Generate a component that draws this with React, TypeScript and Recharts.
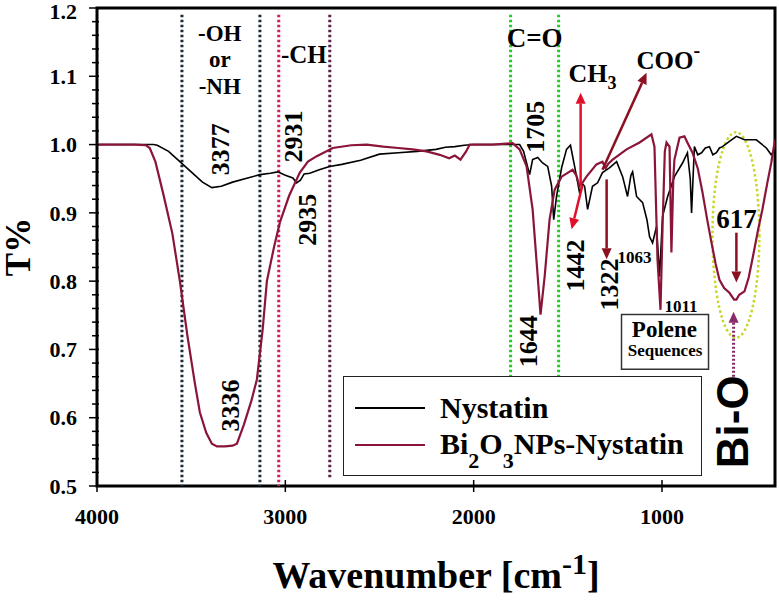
import React from 'react';
import {
  LineChart,
  Line,
  XAxis,
  YAxis,
  Legend,
  ReferenceLine,
  ReferenceDot,
  ReferenceArea,
} from 'recharts';

const SERIF = '"Liberation Serif", "Times New Roman", serif';
const SANS = '"Liberation Sans", Arial, sans-serif';

// wavenumber (cm-1) / transmittance
const nysWn = [
  4000, 3900, 3800, 3700, 3680, 3620, 3560, 3500, 3440, 3390, 3340, 3280, 3200, 3135, 3080, 3040,
  3000, 2960, 2940, 2920, 2900, 2870, 2820, 2765, 2700, 2600, 2500, 2400, 2300, 2200, 2150, 2100,
  2050, 2000, 1900, 1800, 1756, 1735, 1719, 1703, 1687, 1660, 1634, 1607, 1586, 1575, 1560, 1533,
  1507, 1486, 1464, 1438, 1420, 1411, 1395, 1369, 1342, 1316, 1279, 1241, 1209, 1183, 1165, 1156,
  1135, 1103, 1080, 1066, 1050, 1029, 1013, 997, 970, 934, 891, 865, 850, 843, 828, 810, 790, 770,
  748, 730, 711, 695, 679, 640, 605, 562, 499, 446, 420, 400,
];
const nysT = [
  1.0, 1.0, 1.0, 1.0, 0.999, 0.99, 0.975, 0.96, 0.945, 0.937, 0.939, 0.945, 0.951, 0.956, 0.958, 0.96,
  0.955, 0.951, 0.944, 0.948, 0.957, 0.958, 0.963, 0.968, 0.971, 0.977, 0.986, 0.988, 0.99, 0.993, 0.996, 0.997,
  0.999, 1.0, 1.0, 1.0, 1.0, 0.99, 0.973, 0.956, 0.978, 0.981, 0.973, 0.968, 0.939, 0.89, 0.924, 0.966,
  0.993, 0.999, 0.968, 0.93, 0.942, 0.939, 0.905, 0.939, 0.944, 0.959, 0.966, 0.975, 0.953, 0.924, 0.955, 0.96,
  0.924, 0.915, 0.89, 0.865, 0.856, 0.88, 0.807, 0.895, 0.924, 0.953, 0.973, 0.988, 0.95, 0.9, 0.997, 0.985, 0.988, 0.995,
  0.997, 0.985, 0.988, 0.995, 0.997, 1.005, 1.012, 1.007, 1.007, 0.995, 0.985, 0.993,
];

const biWn = [
  4000, 3900, 3800, 3740, 3720, 3690, 3650, 3600, 3560, 3520, 3480, 3454, 3420, 3390, 3363, 3320,
  3280, 3257, 3220, 3180, 3151, 3120, 3098, 3060, 3029, 2980, 2923, 2880, 2833, 2748, 2650, 2568,
  2480, 2400, 2324, 2250, 2180, 2130, 2100, 2070, 2040, 2021, 1900, 1793, 1756, 1719, 1687, 1660,
  1645, 1623, 1597, 1570, 1533, 1475, 1455, 1438, 1420, 1401, 1348, 1316, 1300, 1285, 1262, 1188,
  1119, 1056, 1040, 1024, 1008, 997, 985, 976, 960, 950, 940, 934, 907, 881, 860, 838, 810, 785,
  760, 737, 715, 695, 670, 642, 617, 605, 590, 562, 540, 520, 490, 467, 440, 420, 400,
];
const biT = [
  1.0, 1.0, 1.0, 0.999, 0.995, 0.975, 0.93, 0.87, 0.8, 0.72, 0.65, 0.608, 0.578, 0.562, 0.558, 0.558,
  0.559, 0.562, 0.59, 0.625, 0.656, 0.73, 0.8, 0.85, 0.886, 0.925, 0.959, 0.975, 0.983, 0.995, 0.999, 1.0,
  0.997, 0.995, 0.993, 0.99, 0.985, 0.98, 0.984, 0.978, 0.99, 1.0, 1.0, 1.002, 0.993, 0.968, 0.905, 0.807,
  0.751, 0.807, 0.89, 0.934, 0.953, 0.963, 0.955, 0.939, 0.945, 0.953, 0.971, 0.975, 0.965, 0.972, 0.978, 0.993,
  1.003, 1.015, 0.997, 0.832, 0.758, 0.88, 0.99, 1.003, 0.997, 0.842, 0.95, 0.978, 1.01, 1.012, 1.0, 0.988, 0.965, 0.93,
  0.89, 0.856, 0.825, 0.802, 0.79, 0.783, 0.773, 0.773, 0.78, 0.785, 0.805, 0.832, 0.875, 0.905, 0.945, 0.973, 1.007,
];

const seriesNames = ['Nystatin', 'Bi2O3NPs-Nystatin'];
const seriesColors = ['#000000', '#8b1538'];

const xTicks = [4000, 3000, 2000, 1000];
const yLabels = [0.5, 0.6, 0.7, 0.8, 0.9, 1.0, 1.1, 1.2];

// 4 minor ticks between labelled ones
const yTicks: number[] = [];
yLabels.forEach((v, i) => {
  yTicks.push(v);
  if (i < yLabels.length - 1) for (let k = 1; k < 5; k++) yTicks.push(Math.round((v + k * 0.02) * 100) / 100);
});

// band guides (wavenumber, colour, lower end)
const bandLines = [
  { wn: 3549, color: '#1b2a3a', bottom: 0.5 },
  { wn: 3135, color: '#1b2a3a', bottom: 0.5 },
  { wn: 3035, color: '#d81b5a', bottom: 0.5 },
  { wn: 2764, color: '#5e1f48', bottom: 0.51 },
  { wn: 1804, color: '#22cc22', bottom: 0.66 },
  { wn: 1549, color: '#22cc22', bottom: 0.66 },
];

// rotated peak positions
const peakLabels = [
  { wn: 3347, t: 0.993, text: '3377' },
  { wn: 2960, t: 1.012, text: '2931' },
  { wn: 2886, t: 0.89, text: '2935' },
  { wn: 3294, t: 0.618, text: '3336' },
  { wn: 1676, t: 1.026, text: '1705' },
  { wn: 1713, t: 0.712, text: '1644' },
  { wn: 1464, t: 0.823, text: '1442' },
  { wn: 1284, t: 0.795, text: '1322' },
];

// group labels, t is baseline
const groupLabels = [
  { wn: 3348, t: 1.152, text: '-OH', size: 23, anchor: 'middle' },
  { wn: 3348, t: 1.114, text: 'or', size: 23, anchor: 'middle' },
  { wn: 3348, t: 1.074, text: '-NH', size: 23, anchor: 'middle' },
  { wn: 2902, t: 1.12, text: '-CH', size: 25, anchor: 'middle' },
  { wn: 1676, t: 1.143, text: 'C=O', size: 27, anchor: 'middle' },
  { wn: 605, t: 0.878, text: '617', size: 27, anchor: 'middle' },
  { wn: 1236, t: 0.827, text: '1063', size: 17, anchor: 'start' },
  { wn: 987, t: 0.755, text: '1011', size: 17, anchor: 'start' },
  { wn: 987, t: 0.718, text: 'Polene', size: 23, anchor: 'middle' },
  { wn: 984, t: 0.69, text: 'Sequences', size: 17, anchor: 'middle' },
];

const arrows = [
  { from: [1432, 0.939], to: [1432, 1.076], color: '#e0102a', dashed: false },
  { from: [1422, 0.941], to: [1480, 0.876], color: '#e0102a', dashed: false },
  { from: [1316, 0.963], to: [1082, 1.105], color: '#8b1020', dashed: false },
  { from: [1294, 0.949], to: [1294, 0.832], color: '#8b1020', dashed: false },
  { from: [605, 0.871], to: [605, 0.798], color: '#8b1020', dashed: false },
  { from: [620, 0.66], to: [620, 0.755], color: '#8b2a6b', dashed: true },
];

const nysData = nysWn.map((wn, i) => ({ wn, t: nysT[i] }));
const biData = biWn.map((wn, i) => ({ wn, t: biT[i] }));

const XTick = (p: any) => (
  <g>
    <line x1={p.x} x2={p.x} y1={p.y - 6} y2={p.y + 6} stroke="#000" strokeWidth={1.5} />
    <text x={p.x} y={p.y + 38} textAnchor="middle" fontFamily={SERIF} fontWeight="bold" fontSize={22} fill="#000">
      {p.payload.value}
    </text>
  </g>
);

const YTick = (p: any) => {
  const v = p.payload.value;
  const major = Math.abs(v * 10 - Math.round(v * 10)) < 1e-6;
  return (
    <g>
      <line x1={p.x - (major ? 8 : 5)} x2={p.x + 2} y1={p.y} y2={p.y} stroke="#000" strokeWidth={1.5} />
      {major && (
        <text x={p.x - 20} y={Math.max(p.y, 11)} dy="0.35em" textAnchor="end" fontFamily={SERIF} fontWeight="bold" fontSize={22} fill="#000">
          {v.toFixed(1)}
        </text>
      )}
    </g>
  );
};

const arrowShape = (color: string, dashed: boolean) => (p: any) => {
  const { x1, y1, x2, y2 } = p;
  const dx = x2 - x1;
  const dy = y2 - y1;
  const len = Math.hypot(dx, dy) || 1;
  const ux = dx / len;
  const uy = dy / len;
  const hl = 11;
  const hw = 5;
  const bx = x2 - ux * hl;
  const by = y2 - uy * hl;
  const pts = `${x2},${y2} ${bx - uy * hw},${by + ux * hw} ${bx + uy * hw},${by - ux * hw}`;
  return (
    <g>
      <line x1={x1} y1={y1} x2={bx} y2={by} stroke={color} strokeWidth={dashed ? 3 : 2.5} strokeDasharray={dashed ? '2 2' : undefined} />
      <polygon points={pts} fill={color} />
    </g>
  );
};

const renderName = (name: string) =>
  name.split(/(\d)/).map((part, i) =>
    /\d/.test(part) ? (
      <span key={i} style={{ fontSize: 22, position: 'relative', top: 14 }}>{part}</span>
    ) : (
      <span key={i}>{part}</span>
    )
  );

const LegendBox = (props: any) => {
  const items = [...(props.payload || [])].sort(
    (a: any, b: any) => seriesNames.indexOf(a.value) - seriesNames.indexOf(b.value)
  );
  return (
    <div
      style={{
        width: 359,
        height: 100,
        boxSizing: 'border-box',
        border: '1.5px solid #222',
        background: '#fff',
        fontFamily: SERIF,
        fontWeight: 'bold',
        fontSize: 30,
        color: '#000',
      }}
    >
      {items.map((e: any, i: number) => (
        <div key={i} style={{ display: 'flex', alignItems: 'center', height: 37, lineHeight: '37px', marginTop: i === 0 ? 12 : 0 }}>
          <span style={{ width: 70, marginLeft: 11, marginRight: 15, borderTop: `2px solid ${e.color}` }} />
          <span>{renderName(String(e.value))}</span>
        </div>
      ))}
    </div>
  );
};

export default function App() {
  return (
    <div style={{ position: 'absolute', left: 0, top: 0 }}>
      <LineChart width={779} height={600} margin={{ top: 8, right: 4, left: 0, bottom: 0 }}>
        <XAxis
          dataKey="wn"
          type="number"
          domain={[400, 4000]}
          reversed
          allowDataOverflow
          ticks={xTicks}
          interval={0}
          tickSize={0}
          tickMargin={0}
          axisLine={false}
          tickLine={false}
          tick={XTick}
          height={114}
          label={{
            content: (p: any) => {
              const vb = p.viewBox;
              return (
                <text x={vb.x + vb.width / 2} y={vb.y + 102} textAnchor="middle" fontFamily={SERIF} fontWeight="bold" fontSize={38} fill="#000">
                  Wavenumber [cm
                  <tspan dy={-14} fontSize={30}>-1</tspan>
                  <tspan dy={14}>]</tspan>
                </text>
              );
            },
          }}
        />
        <YAxis
          type="number"
          domain={[0.5, 1.2]}
          allowDataOverflow
          ticks={yTicks}
          interval={0}
          tickSize={0}
          tickMargin={0}
          axisLine={false}
          tickLine={false}
          tick={YTick}
          width={97}
          label={{
            content: (p: any) => {
              const vb = p.viewBox;
              const cy = vb.y + vb.height / 2;
              return (
                <text x={19} y={cy} transform={`rotate(-90 19 ${cy})`} textAnchor="middle" dy="0.3em" fontFamily={SERIF} fontWeight="bold" fontSize={35} fill="#000">
                  T%
                </text>
              );
            },
          }}
        />

        {bandLines.map((b, i) => (
          <ReferenceLine
            key={'b' + i}
            segment={[{ x: b.wn, y: 1.19 }, { x: b.wn, y: b.bottom }]}
            stroke={b.color}
            strokeWidth={3}
            strokeDasharray="2.5 2.5"
            ifOverflow="visible"
          />
        ))}

        <ReferenceArea
          x1={732}
          x2={483}
          y1={0.717}
          y2={1.018}
          ifOverflow="visible"
          shape={(p: any) => (
            <ellipse
              cx={p.x + p.width / 2}
              cy={p.y + p.height / 2}
              rx={p.width / 2}
              ry={p.height / 2}
              fill="none"
              stroke="#c8d62a"
              strokeWidth={2.5}
              strokeDasharray="2.5 2.5"
            />
          )}
        />

        <Line data={nysData} dataKey="t" name={seriesNames[0]} stroke={seriesColors[0]} strokeWidth={1.6} dot={false} type="linear" isAnimationActive={false} />
        <Line data={biData} dataKey="t" name={seriesNames[1]} stroke={seriesColors[1]} strokeWidth={2.2} dot={false} type="linear" isAnimationActive={false} />

        {arrows.map((a, i) => (
          <ReferenceLine
            key={'a' + i}
            segment={[{ x: a.from[0], y: a.from[1] }, { x: a.to[0], y: a.to[1] }]}
            ifOverflow="visible"
            shape={arrowShape(a.color, a.dashed)}
          />
        ))}

        <ReferenceArea x1={1215} x2={753} y1={0.671} y2={0.751} fill="#fff" fillOpacity={1} stroke="#333" strokeWidth={1.5} ifOverflow="visible" />

        {peakLabels.map((n, i) => (
          <ReferenceDot
            key={'p' + i}
            x={n.wn}
            y={n.t}
            r={0}
            ifOverflow="visible"
            shape={(p: any) => (
              <text x={p.cx} y={p.cy} dy="0.35em" transform={`rotate(-90 ${p.cx} ${p.cy})`} textAnchor="middle" fontFamily={SERIF} fontWeight="bold" fontSize={26} fill="#000">
                {n.text}
              </text>
            )}
          />
        ))}

        {groupLabels.map((n, i) => (
          <ReferenceDot
            key={'g' + i}
            x={n.wn}
            y={n.t}
            r={0}
            ifOverflow="visible"
            shape={(p: any) => (
              <text x={p.cx} y={p.cy} textAnchor={n.anchor as any} fontFamily={SERIF} fontWeight="bold" fontSize={n.size} fill="#000">
                {n.text}
              </text>
            )}
          />
        ))}

        <ReferenceDot
          x={1496}
          y={1.091}
          r={0}
          ifOverflow="visible"
          shape={(p: any) => (
            <text x={p.cx} y={p.cy} fontFamily={SERIF} fontWeight="bold" fontSize={26} fill="#000">
              CH<tspan dy={7} fontSize={18}>3</tspan>
            </text>
          )}
        />
        <ReferenceDot
          x={1135}
          y={1.11}
          r={0}
          ifOverflow="visible"
          shape={(p: any) => (
            <text x={p.cx} y={p.cy} fontFamily={SERIF} fontWeight="bold" fontSize={25} fill="#000">
              COO<tspan dy={-12} fontSize={20}>-</tspan>
            </text>
          )}
        />
        <ReferenceDot
          x={626}
          y={0.594}
          r={0}
          ifOverflow="visible"
          shape={(p: any) => (
            <text x={p.cx} y={p.cy} dy="0.35em" transform={`rotate(-90 ${p.cx} ${p.cy})`} textAnchor="middle" fontFamily={SANS} fontWeight="bold" fontSize={44} fill="#000">
              Bi-O
            </text>
          )}
        />

        <ReferenceArea x1={4000} x2={400} y1={0.5} y2={1.2} fill="none" stroke="#000" strokeWidth={3} ifOverflow="visible" />

        <Legend
          layout="vertical"
          align="center"
          verticalAlign="middle"
          content={LegendBox}
          wrapperStyle={{ left: 343, top: 376, width: 359, height: 100 }}
        />
      </LineChart>
    </div>
  );
}
